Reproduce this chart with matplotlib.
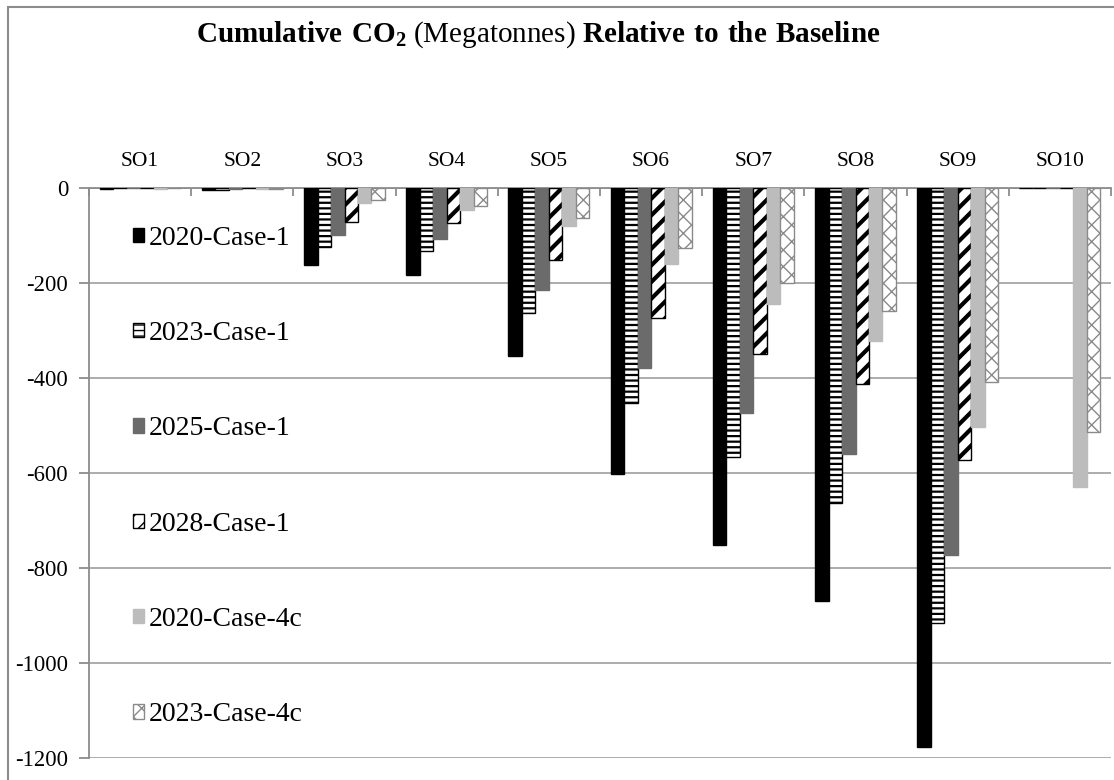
import numpy as np
import matplotlib.pyplot as plt
from matplotlib.patches import Rectangle, Patch

plt.rcParams['font.family'] = ['Liberation Serif', 'DejaVu Serif']
plt.rcParams['mathtext.fontset'] = 'custom'
plt.rcParams['mathtext.rm'] = 'Liberation Serif'
plt.rcParams['mathtext.bf'] = 'Liberation Serif:bold'
plt.rcParams['axes.unicode_minus'] = False

scenarios = ['SO1', 'SO2', 'SO3', 'SO4', 'SO5', 'SO6', 'SO7', 'SO8', 'SO9', 'SO10']
series = ['2020-Case-1', '2023-Case-1', '2025-Case-1', '2028-Case-1',
          '2020-Case-4c', '2023-Case-4c']

c2020_1 = [-3, -4, -162, -183, -354, -602, -752, -869, -1177, 0]
c2023_1 = [-1, -4, -124, -133, -263, -453, -566, -663, -916, 0]
c2025_1 = [-1, -2, -99, -107, -215, -379, -474, -560, -773, 0]
c2028_1 = [-1, -1, -72, -74, -152, -273, -349, -413, -573, 0]
c2020_4c = [-2, -3, -32, -46, -80, -160, -244, -322, -503, -630]
c2023_4c = [-1, -2, -25, -38, -63, -126, -200, -259, -408, -514]
values = [c2020_1, c2023_1, c2025_1, c2028_1, c2020_4c, c2023_4c]

styles = [
    dict(facecolor='black', edgecolor='black', hatch=None, hlw=1.0),
    dict(facecolor='white', edgecolor='black', hatch='---', hlw=1.6),
    dict(facecolor='#6b6b6b', edgecolor='#6b6b6b', hatch=None, hlw=1.0),
    dict(facecolor='white', edgecolor='black', hatch='//', hlw=3.0),
    dict(facecolor='#bcbcbc', edgecolor='#bcbcbc', hatch=None, hlw=1.0),
    dict(facecolor='white', edgecolor='#8a8a8a', hatch='xx', hlw=1.0),
]

fig = plt.figure(figsize=(11.14, 7.8), dpi=100)
ax = fig.add_axes([89 / 1114, 22 / 780, 1022 / 1114, 570 / 780])

x = np.arange(len(scenarios))
w = 0.132
handles = []
for i, (vals, st) in enumerate(zip(values, styles)):
    with plt.rc_context({'hatch.linewidth': st['hlw']}):
        ax.bar(x + (i - 2.5) * w, vals, width=w, color=st['facecolor'],
               edgecolor=st['edgecolor'], hatch=st['hatch'], linewidth=1.0,
               zorder=3)
        h = Patch(facecolor=st['facecolor'], edgecolor=st['edgecolor'],
                  hatch=st['hatch'], linewidth=1.0)
    handles.append(h)

ax.set_xlim(-0.5, 9.5)
ax.set_ylim(-1200, 0)
ax.set_yticks(np.arange(-1200, 1, 200))
ax.yaxis.grid(True, color='#a6a6a6', linewidth=1.3, zorder=0)
ax.set_axisbelow(True)

ax.xaxis.tick_top()
ax.set_xticks(x)
ax.set_xticklabels(scenarios, fontsize=15.5)
ax.set_xticks(np.arange(-0.5, 10, 1), minor=True)
ax.tick_params(axis='x', which='major', length=0, pad=12)
ax.tick_params(axis='x', which='minor', length=6, direction='in', color='#8c8c8c', width=1.3)
ax.tick_params(axis='y', length=7, direction='out', color='#8c8c8c', width=1.3,
               labelsize=16.3, pad=8)

for side in ['right', 'bottom']:
    ax.spines[side].set_visible(False)
for side in ['top', 'left']:
    ax.spines[side].set_color('#8c8c8c')
    ax.spines[side].set_linewidth(1.3)

ax.legend(handles, series, loc='upper left', bbox_to_anchor=(0.032, 0.953),
          frameon=False, fontsize=20, handlelength=0.42, handleheight=0.42,
          handletextpad=0.15, labelspacing=2.53, borderaxespad=0)

fig.text(0.483, 0.955,
         r'$\mathbf{Cumulative\ CO_2}$ (Megatonnes) $\mathbf{Relative\ to\ the\ Baseline}$',
         ha='center', va='center', fontsize=21)

fig.patches.append(Rectangle((8 / 1114, -0.1), 1.2, 1 - 7 / 780 + 0.1,
                             transform=fig.transFigure, fill=False,
                             edgecolor='#8c8c8c', linewidth=1.5))

fig.savefig('out.png', dpi=100)
